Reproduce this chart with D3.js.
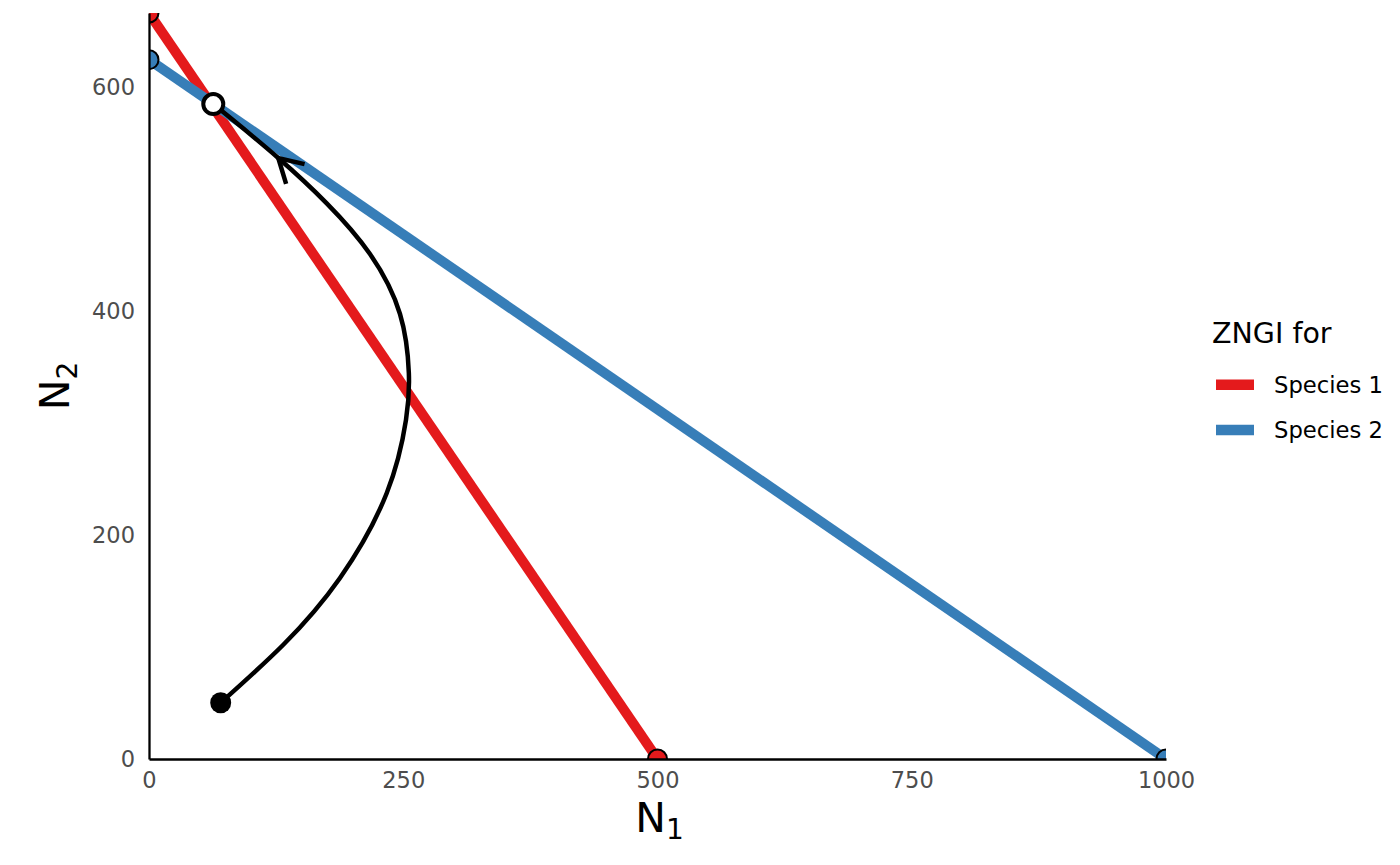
<!DOCTYPE html>
<html>
<head>
<meta charset="utf-8">
<style>
  body { margin: 0; background: #fff; }
  text { font-family: "DejaVu Sans", sans-serif; }
</style>
</head>
<body>
<svg id="chart" width="1400" height="865"></svg>
<script src="https://cdn.jsdelivr.net/npm/d3@7/dist/d3.min.js"></script>
<script>
// ---- data ----
var xTicks = [0, 250, 500, 750, 1000];
var yTicks = [0, 200, 400, 600];
var species = ["Species 1", "Species 2"];
var speciesColors = ["#E41A1C", "#377EB8"];
// ZNGI end points: [N1, N2]
var zngi1 = [[0, 666.7], [500, 0]];
var zngi2 = [[0, 625], [1000, 0]];
// trajectory
var trajectory = [
  [70.5, 50.3], [131.8, 101.9], [187.8, 161.8], [233.7, 237.5], [252.7, 303.0],
  [255.5, 345.0], [246.8, 397.7], [217.3, 451.3], [175.0, 496.4], [127.1, 537.1],
  [82.6, 571.0], [63.2, 585.3]
];
var arrowAt = 9;            // index of trajectory point carrying the arrow head
var startPoint = [70.5, 50.3];
var equilibrium = [63.2, 585.3];

// ---- layout ----
var svg = d3.select("#chart"),
    margin = {top: 13, right: 234, bottom: 106, left: 149},
    width = 1400 - margin.left - margin.right,
    height = 865 - margin.top - margin.bottom;

var x = d3.scaleLinear().domain([0, 1000]).range([0, width]);
var y = d3.scaleLinear().domain([0, 666.7]).range([height, 0]);

var g = svg.append("g")
    .attr("transform", "translate(" + margin.left + "," + margin.top + ")");

svg.append("defs").append("clipPath").attr("id", "panel")
  .append("rect").attr("x", 0).attr("y", 0).attr("width", width).attr("height", height);

var plot = g.append("g").attr("clip-path", "url(#panel)");

var line = d3.line().x(function(d) { return x(d[0]); }).y(function(d) { return y(d[1]); });

// ZNGI lines
[zngi1, zngi2].forEach(function(z, i) {
  plot.append("path")
      .attr("d", line(z))
      .attr("fill", "none")
      .attr("stroke", speciesColors[i])
      .attr("stroke-width", 10);
});

// end points of ZNGIs
[zngi1, zngi2].forEach(function(z, i) {
  plot.selectAll(null).data(z).enter().append("circle")
      .attr("cx", function(d) { return x(d[0]); })
      .attr("cy", function(d) { return y(d[1]); })
      .attr("r", 9.5)
      .attr("fill", speciesColors[i])
      .attr("stroke", "#000")
      .attr("stroke-width", 2);
});

// trajectory
plot.append("path")
    .attr("d", line.curve(d3.curveNatural)(trajectory))
    .attr("fill", "none")
    .attr("stroke", "#000")
    .attr("stroke-width", 4.5);

// open arrow head
var tip = trajectory[arrowAt], prev = trajectory[arrowAt - 1];
var ang = Math.atan2(y(prev[1]) - y(tip[1]), x(prev[0]) - x(tip[0]));
var aLen = 27, aAng = Math.PI / 6;
var tx = x(tip[0]), ty = y(tip[1]);
plot.append("path")
    .attr("d", "M" + (tx + aLen * Math.cos(ang + aAng)) + "," + (ty + aLen * Math.sin(ang + aAng)) +
               "L" + tx + "," + ty +
               "L" + (tx + aLen * Math.cos(ang - aAng)) + "," + (ty + aLen * Math.sin(ang - aAng)))
    .attr("fill", "none")
    .attr("stroke", "#000")
    .attr("stroke-width", 4.5);

// start and equilibrium
plot.append("circle")
    .attr("cx", x(startPoint[0])).attr("cy", y(startPoint[1]))
    .attr("r", 10.5).attr("fill", "#000");
plot.append("circle")
    .attr("cx", x(equilibrium[0])).attr("cy", y(equilibrium[1]))
    .attr("r", 10).attr("fill", "#fff")
    .attr("stroke", "#000").attr("stroke-width", 4);

// axes
var xAxis = g.append("g")
    .attr("transform", "translate(0," + height + ")")
    .call(d3.axisBottom(x).tickValues(xTicks).tickFormat(d3.format("d"))
      .tickSize(0).tickSizeOuter(0).tickPadding(13));
var yAxis = g.append("g")
    .call(d3.axisLeft(y).tickValues(yTicks).tickFormat(d3.format("d"))
      .tickSize(0).tickSizeOuter(0).tickPadding(14));

[xAxis, yAxis].forEach(function(a) {
  a.select(".domain").attr("stroke", "#000").attr("stroke-width", 2.3);
  a.selectAll("text")
      .attr("fill", "#4d4d4d")
      .style("font-size", "22.5px")
      .style("font-family", "DejaVu Sans, sans-serif");
});

// axis titles
var xt = g.append("text")
    .attr("x", width / 2 + 2).attr("y", height + 73)
    .attr("text-anchor", "middle")
    .style("font-size", "41px");
xt.append("tspan").text("N");
xt.append("tspan").attr("dy", 7).style("font-size", "28px").text("1");

var yt = g.append("text")
    .attr("transform", "translate(-80," + (height / 2) + ") rotate(-90)")
    .attr("text-anchor", "middle")
    .style("font-size", "41px");
yt.append("tspan").text("N");
yt.append("tspan").attr("dy", 8).style("font-size", "28px").text("2");

// legend
var legend = svg.append("g").attr("transform", "translate(1212,343)");
legend.append("text")
    .attr("x", 0).attr("y", 0)
    .style("font-size", "28.5px")
    .text("ZNGI for");

var item = legend.selectAll(".item").data(species).enter().append("g")
    .attr("class", "item")
    .attr("transform", function(d, i) { return "translate(0," + (41.7 + i * 45.3) + ")"; });
item.append("line")
    .attr("x1", 4).attr("x2", 42).attr("y1", 0).attr("y2", 0)
    .attr("stroke", function(d, i) { return speciesColors[i]; })
    .attr("stroke-width", 10.5);
item.append("text")
    .attr("x", 62).attr("y", 8)
    .style("font-size", "22.7px")
    .text(function(d) { return d; });
</script>
</body>
</html>
